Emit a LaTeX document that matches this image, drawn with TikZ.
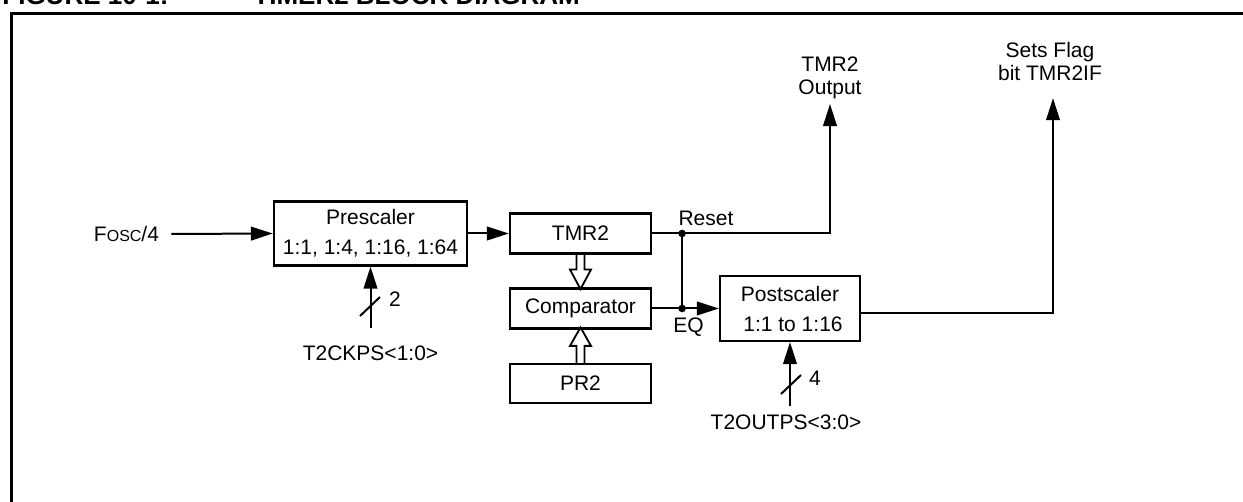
\documentclass[tikz,border=0pt]{standalone}
\usepackage{fontspec}
\setmainfont{Liberation Sans}
\usetikzlibrary{arrows.meta,calc}
\begin{document}
\begin{tikzpicture}[x=0.5pt,y=-0.5pt,
  blk/.style={draw,line width=1.1pt,inner sep=0pt,align=center,font=\fontsize{10.5}{15}\selectfont},
  lbl/.style={inner sep=0pt,align=center,font=\fontsize{10.5}{11.5}\selectfont},
  wire/.style={line width=1pt},
  arr/.style={wire,-{Triangle[length=11pt,width=6.8pt]}},
  jdot/.style={circle,fill,inner sep=0pt,minimum size=3.8pt},
  hollow/.style={line width=0.9pt,line join=miter},
  frame/.style={line width=1.5pt},
  ttl/.style={anchor=base west,inner sep=0pt,font=\fontsize{13}{13}\selectfont\bfseries}]
\useasboundingbox (0,0) rectangle (1243,502);
\begin{scope}
\clip (0,0) rectangle (1243,502);
\draw[frame] (11,520) -- (11,14) -- (1260,14);
\node[ttl] (fig) at (2,5) {FIGURE 10-1:};
\node[ttl] (title) at (253,5) {TIMER2 BLOCK DIAGRAM};
\end{scope}

% blocks
\node[blk,minimum width=96.5pt,minimum height=32pt] (pre) at (370.5,233.5) {Prescaler\\1:1, 1:4, 1:16, 1:64};
\node[blk,minimum width=70.5pt,minimum height=20pt] (tmr) at (580.5,233.5) {TMR2};
\node[blk,minimum width=70.5pt,minimum height=20pt] (comp) at (580.5,308.5) {Comparator};
\node[blk,minimum width=70.5pt,minimum height=19.5pt] (pr) at (580.5,383.5) {PR2};
\node[blk,minimum width=70pt,minimum height=32.5pt] (post) at (790,308.5) {Postscaler\\\hspace{3pt}1:1 to 1:16};

% labels
\node[lbl] (fosc) at (126.5,234) {F{\fontsize{8}{9}\selectfont OSC}/4};
\node[lbl] (outlbl) at (830,78) {TMR2\\Output};
\node[lbl] (flag) at (1050,61) {Sets Flag\\bit TMR2IF};
\node[lbl] (reset) at (706,218) {Reset};
\node[lbl] (eq) at (688.5,327) {EQ};
\node[lbl] (ckps) at (370.5,353) {T2CKPS<1:0>};
\node[lbl] (outps) at (786,422) {T2OUTPS<3:0>};
\node[lbl] (n2) at (395,299) {2};
\node[lbl] (n4) at (815,378) {4};

% junctions
\coordinate (jr) at ($(tmr.east)+(30,0)$);
\coordinate (jeq) at (jr |- comp.east);

% connectors
\draw[arr] ([xshift=6pt]fosc.east) -- (pre.west);
\draw[arr] (pre.east) -- (tmr.west);
\draw[arr] (tmr.east) -- (jr) -| ([yshift=-2.3pt]outlbl.south);
\draw[wire] (jr) -- (jeq);
\draw[arr] (comp.east) -- (post.west);
\draw[arr] ([yshift=-2.25pt]post.east) -| ([xshift=1.5pt,yshift=-8.8pt]flag.south);
\draw[arr] ([yshift=8.75pt]ckps.north) -- (pre.south);
\draw[arr] ([yshift=4.25pt]outps.north -| post.south) -- (post.south);
\node[jdot] at (jr) {};
\node[jdot] at (jeq) {};

% bus slashes
\draw[wire] (360,316) -- (380,297);
\draw[wire] (781,394) -- (801,375);

% hollow bus arrows
\draw[hollow] ($(tmr.south)+(-4,0)$) -- ++(0,15) -- ++(-6.5,0) -- ++(10.5,19.5) -- ++(10.5,-19.5) -- ++(-6.5,0) -- ++(0,-15);
\draw[hollow] ($(pr.north)+(-4,0)$) -- ++(0,-17) -- ++(-6.5,0) -- ++(10.5,-18.5) -- ++(10.5,18.5) -- ++(-6.5,0) -- ++(0,17);
\end{tikzpicture}
\end{document}
